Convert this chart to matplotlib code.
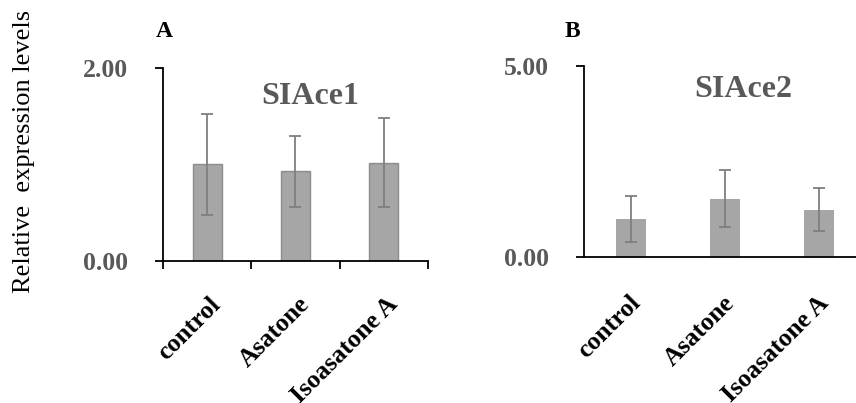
import matplotlib
matplotlib.use("Agg")
import matplotlib.pyplot as plt
import matplotlib.transforms as mtransforms
import numpy as np

plt.rcParams['font.family'] = ['Liberation Serif', 'DejaVu Serif']

# data
categories = ["control", "Asatone", "Isoasatone A"]
ace1_mean = [1.00, 0.93, 1.02]
ace1_err = [0.52, 0.37, 0.46]
ace2_mean = [1.00, 1.53, 1.24]
ace2_err = [0.61, 0.745, 0.565]

GRAY_TXT = "#595959"
BAR = "#a6a6a6"
ERR = "#7f7f7f"

fig = plt.figure(figsize=(8.56, 4.03), dpi=100)

# panel axes [left, bottom, width, height] in figure coords
axA = fig.add_axes([0.1904, 0.3524, 0.3096, 0.4789])
axB = fig.add_axes([0.6822, 0.3615, 0.3294, 0.4747])


def panel(ax, means, errs, ymax, title, title_xy, width, edge, xticks, lab_dx, lab_dy):
    x = np.arange(1, len(means) + 1)
    ax.bar(x, means, width=width, color=BAR,
           edgecolor=edge if edge else BAR, linewidth=1.0 if edge else 0)
    ax.errorbar(x, means, yerr=errs, fmt="none", ecolor=ERR,
                elinewidth=1.3, capsize=4, capthick=1.3)
    ax.set_xlim(0.5, len(means) + 0.5)
    ax.set_ylim(0, ymax)
    for s in ("top", "right"):
        ax.spines[s].set_visible(False)
    for s in ("left", "bottom"):
        ax.spines[s].set_linewidth(1.3)
        ax.spines[s].set_color("black")
    ax.set_yticks([0, ymax])
    ax.set_yticklabels(["%.2f" % v for v in (0, ymax)],
                       fontsize=18.5, fontweight="bold", color=GRAY_TXT)
    ax.tick_params(axis="y", direction="out", length=6, width=1.3, pad=19)
    if xticks:
        ax.set_xticks(np.arange(0.5, len(means) + 1, 1.0))
        ax.tick_params(axis="x", direction="out", length=5.5, width=1.3,
                       labelbottom=False)
    else:
        ax.set_xticks([])
    ax.text(title_xy[0], title_xy[1], title, transform=ax.transAxes,
            ha="center", va="center", fontsize=23, fontweight="bold",
            color=GRAY_TXT)
    # rotated category labels
    base = mtransforms.blended_transform_factory(ax.transData, ax.transAxes)
    off = mtransforms.ScaledTranslation(lab_dx / 100.0, -lab_dy / 100.0,
                                        fig.dpi_scale_trans)
    for xi, lab in zip(x, categories):
        ax.text(xi, 0, lab, transform=base + off, rotation=45,
                rotation_mode="anchor", ha="right", va="center",
                fontsize=18.5, fontweight="bold", color="black")


panel(axA, ace1_mean, ace1_err, 2.0, "SIAce1", (0.555, 0.85), 0.33, "#8c8c8c", True, 10, 40)
panel(axB, ace2_mean, ace2_err, 5.0, "SIAce2", (0.564, 0.875), 0.31, None, False, 6, 42)

fig.text(0.1916, 0.9218, "A", ha="center", va="center", fontsize=17,
         fontweight="bold", color="black")
fig.text(0.6688, 0.9218, "B", ha="center", va="center", fontsize=17,
         fontweight="bold", color="black")
fig.text(0.028, 0.623, "Relative  expression levels", rotation=90,
         ha="center", va="center", fontsize=19, color="black")

fig.savefig("out.png", dpi=100)
